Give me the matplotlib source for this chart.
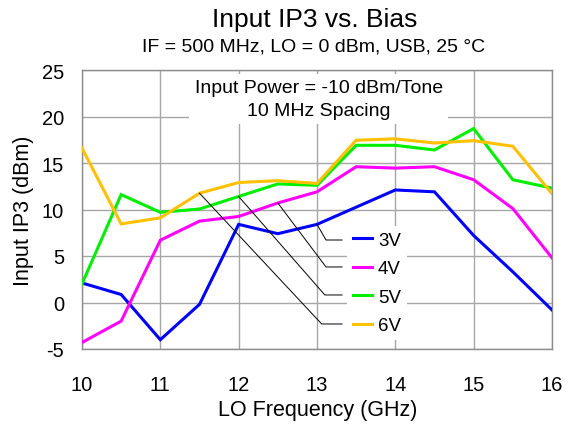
import matplotlib
matplotlib.use("Agg")
import matplotlib.pyplot as plt

plt.rcParams['font.family'] = ['Liberation Sans', 'DejaVu Sans']
plt.rcParams['axes.unicode_minus'] = False

freq = [10, 10.5, 11, 11.5, 12, 12.5, 13, 13.5, 14, 14.5, 15, 15.5, 16]
ip3_3v = [2.1, 0.86, -4.0, -0.2, 8.4, 7.4, 8.4, 10.25, 12.1, 11.9, 7.2, 3.3, -0.8]
ip3_4v = [-4.3, -2.0, 6.7, 8.75, 9.25, 10.7, 11.9, 14.6, 14.45, 14.6, 13.2, 10.1, 4.8]
ip3_5v = [2.0, 11.6, 9.7, 10.05, 11.4, 12.75, 12.6, 16.9, 16.9, 16.4, 18.7, 13.2, 12.3]
ip3_6v = [16.6, 8.45, 9.1, 11.75, 12.9, 13.1, 12.8, 17.45, 17.6, 17.15, 17.4, 16.8, 11.7]
labels = ['3V', '4V', '5V', '6V']
colors = ['#0000FF', '#FF00FF', '#00EE00', '#FFC000']
xticks = [10, 11, 12, 13, 14, 15, 16]
yticks = [-5, 0, 5, 10, 15, 20, 25]

fig = plt.figure(figsize=(5.77, 4.27), dpi=100)
ax = fig.add_axes([82/577, 1-350/427, 470/577, 279/427])

series = [ip3_3v, ip3_4v, ip3_5v, ip3_6v]
for s, c, l in zip(series, colors, labels):
    ax.plot(freq, s, color=c, lw=2.2, label=l, zorder=3, solid_joinstyle='miter')

ax.set_xlim(10, 16)
ax.set_ylim(-5, 25)
ax.set_xticks(xticks)
ax.set_yticks(yticks)
ax.grid(True, color='#A6A6A6', lw=1.0)
ax.set_axisbelow(True)
ax.tick_params(length=0, labelsize=14.5)
ax.tick_params(axis='x', pad=19)
ax.tick_params(axis='y', pad=13)
for sp in ax.spines.values():
    sp.set_color('#8C8C8C')
    sp.set_linewidth(1.0)

ax.set_xlabel('LO Frequency (GHz)', fontsize=15.5, labelpad=6)
ax.set_ylabel('Input IP3 (dBm)', fontsize=15.5, labelpad=6)
ax.xaxis.set_label_coords((318 - 82)/470, -(411 - 350)/279)
ax.yaxis.set_label_coords(-(82 - 23)/470, 0.5)
ax.xaxis.label.set_va('center')
ax.yaxis.label.set_va('center')

fig.text(314.5/577, 1-20/427, 'Input IP3 vs. Bias', ha='center', va='center', fontsize=19)
fig.text(314/577, 1-47/427, 'IF = 500 MHz, LO = 0 dBm, USB, 25 \u00b0C', ha='center', va='center', fontsize=14)

ax.text(13.02, 24.0, 'Input Power = -10 dBm/Tone\n10 MHz Spacing', ha='center', va='top',
        fontsize=14, linespacing=1.4, zorder=4,
        bbox=dict(facecolor='white', edgecolor='none', pad=4))

leg = ax.legend(loc='upper left', bbox_to_anchor=((347.4 - 82)/470, 1-(227-71)/279),
                frameon=True, fontsize=13.5, handlelength=1.01, handletextpad=0.32,
                labelspacing=0.61, borderpad=0.3, borderaxespad=0)
leg.get_frame().set_facecolor('white')
leg.get_frame().set_edgecolor('none')
leg.get_frame().set_alpha(1)
leg.set_zorder(5)

# leader lines from legend entries to curves
targets = [(13.0, ip3_3v[6]), (12.5, ip3_4v[5]), (12.0, ip3_5v[4]), (11.5, ip3_6v[3])]
ly = [6.72, 3.82, 0.81, -2.31]
lx0 = [13.115, 13.115, 13.10, 13.06]
for (tx, ty), y, x0 in zip(targets, ly, lx0):
    ax.plot([13.32, x0, tx], [y, y, ty], color='black', lw=0.7, zorder=6)

fig.savefig('out.png', dpi=100)
